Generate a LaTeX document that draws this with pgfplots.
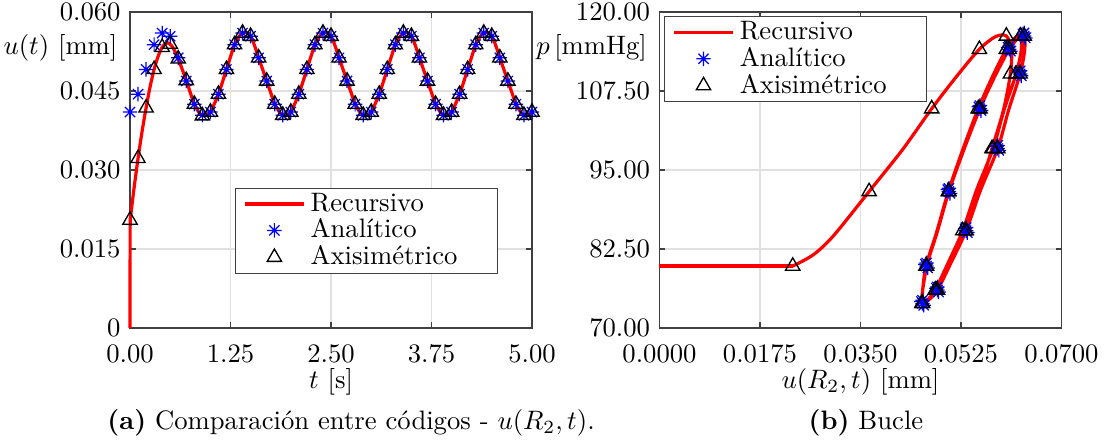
\documentclass[border=0pt]{standalone}
\usepackage{pgfplots}
\pgfplotsset{compat=1.18}
\pgfdeclareplotmark{ast8}{%
  \pgfpathmoveto{\pgfqpoint{-\pgfplotmarksize}{0pt}}\pgfpathlineto{\pgfqpoint{\pgfplotmarksize}{0pt}}%
  \pgfpathmoveto{\pgfqpoint{0pt}{-\pgfplotmarksize}}\pgfpathlineto{\pgfqpoint{0pt}{\pgfplotmarksize}}%
  \pgfpathmoveto{\pgfqpoint{-0.7071\pgfplotmarksize}{-0.7071\pgfplotmarksize}}\pgfpathlineto{\pgfqpoint{0.7071\pgfplotmarksize}{0.7071\pgfplotmarksize}}%
  \pgfpathmoveto{\pgfqpoint{-0.7071\pgfplotmarksize}{0.7071\pgfplotmarksize}}\pgfpathlineto{\pgfqpoint{0.7071\pgfplotmarksize}{-0.7071\pgfplotmarksize}}%
  \pgfusepathqstroke}
\pgfplotsset{myax/.style={
  width=150.75pt, height=118.5pt, scale only axis,
  grid=major, grid style={line width=0.4pt, draw=black!12},
  axis line style={draw=black!75, line width=0.5pt},
  tick style={draw=black!75, line width=0.5pt},
  tick align=inside, major tick length=2.2pt,
  scaled x ticks=false, scaled y ticks=false,
  every axis y label/.style={at={(axis description cs:0,0.886)}, anchor=east, xshift=-1.2pt},
  every axis x label/.style={at={(axis description cs:0.5,0)}, anchor=north, yshift=-11.7pt},
  xticklabel style={yshift=-2.6pt},
  legend cell align=left,
  legend image code/.code={\draw[mark repeat=2,mark phase=2,##1] plot coordinates {(0pt,0pt) (11pt,0pt) (22pt,0pt)};},
  legend style={draw=black!75, line width=0.5pt, inner xsep=3pt, inner ysep=1pt,
     nodes={inner xsep=2pt, inner ysep=0.7pt}},
  clip=false,
},
recline/.style={red, line width=1.2pt, smooth, no markers},
anaplot/.style={only marks, blue, mark=ast8, mark size=2.7pt, mark options={line width=0.45pt}},
axiplot/.style={only marks, black, mark=triangle, mark size=3.1pt, mark options={line width=0.5pt}},
}
\begin{document}
\begin{tikzpicture}
\path[use as bounding box] (-48.75pt,-42.375pt) rectangle (371.25pt,123pt);
% ---------------- (a)
\begin{axis}[myax, at={(0pt,0pt)}, anchor=south west,
  xmin=0, xmax=5, ymin=0, ymax=0.06,
  xtick={0,1.25,2.5,3.75,5}, xticklabels={0.00,1.25,2.50,3.75,5.00},
  ytick={0,0.015,0.03,0.045,0.06}, yticklabels={0,0.015,0.030,0.045,0.060},
  xlabel={$t$ [s]}, ylabel={$u(t)$ [mm]},
  legend style={at={(0.9154,0.1709)}, anchor=south east},
]
\addplot[red, line width=1.2pt, no markers, forget plot] coordinates {(0,0) (0.002,0.0205)};
\addplot[recline] coordinates {
(0.002,0.0205) (0.05,0.0265) (0.1,0.0322) (0.15,0.0373) (0.2,0.0418) (0.25,0.0458) (0.3,0.0491) (0.35,0.0516) (0.4,0.0533) (0.45,0.0541) (0.5,0.0539) (0.55,0.0528) (0.6,0.0511) (0.65,0.0491) (0.7,0.0470) (0.75,0.0447) (0.8,0.0425) (0.85,0.0411) (0.9,0.0403) (0.95,0.0404)
(1.00,0.0410)(1.05,0.0426)(1.10,0.0444)(1.15,0.0467)(1.20,0.0491)(1.25,0.0515)(1.30,0.0538)(1.35,0.0552)(1.40,0.0560)(1.45,0.0561)(1.50,0.0554)(1.55,0.0536)(1.60,0.0513)(1.65,0.0491)(1.70,0.0469)(1.75,0.0447)(1.80,0.0425)(1.85,0.0412)(1.90,0.0404)(1.95,0.0404)
(2.00,0.0410)(2.05,0.0426)(2.10,0.0444)(2.15,0.0467)(2.20,0.0491)(2.25,0.0515)(2.30,0.0538)(2.35,0.0552)(2.40,0.0560)(2.45,0.0561)(2.50,0.0554)(2.55,0.0536)(2.60,0.0513)(2.65,0.0491)(2.70,0.0469)(2.75,0.0447)(2.80,0.0425)(2.85,0.0412)(2.90,0.0404)(2.95,0.0404)
(3.00,0.0410)(3.05,0.0426)(3.10,0.0444)(3.15,0.0467)(3.20,0.0491)(3.25,0.0515)(3.30,0.0538)(3.35,0.0552)(3.40,0.0560)(3.45,0.0561)(3.50,0.0554)(3.55,0.0536)(3.60,0.0513)(3.65,0.0491)(3.70,0.0469)(3.75,0.0447)(3.80,0.0425)(3.85,0.0412)(3.90,0.0404)(3.95,0.0404)
(4.00,0.0410)(4.05,0.0426)(4.10,0.0444)(4.15,0.0467)(4.20,0.0491)(4.25,0.0515)(4.30,0.0538)(4.35,0.0552)(4.40,0.0560)(4.45,0.0561)(4.50,0.0554)(4.55,0.0536)(4.60,0.0513)(4.65,0.0491)(4.70,0.0469)(4.75,0.0447)(4.80,0.0425)(4.85,0.0412)(4.90,0.0404)(4.95,0.0404)
(5.00,0.0410)};
\addlegendentry{\makebox[65pt][l]{Recursivo}}
\addplot[anaplot] coordinates {
(0.0,0.0410)(0.1,0.0444)(0.2,0.0491)(0.3,0.0538)(0.4,0.0560)(0.5,0.0554)(0.6,0.0513)(0.7,0.0469)(0.8,0.0425)(0.9,0.0404)
(1.0,0.0410)(1.1,0.0444)(1.2,0.0491)(1.3,0.0538)(1.4,0.0560)(1.5,0.0554)(1.6,0.0513)(1.7,0.0469)(1.8,0.0425)(1.9,0.0404)
(2.0,0.0410)(2.1,0.0444)(2.2,0.0491)(2.3,0.0538)(2.4,0.0560)(2.5,0.0554)(2.6,0.0513)(2.7,0.0469)(2.8,0.0425)(2.9,0.0404)
(3.0,0.0410)(3.1,0.0444)(3.2,0.0491)(3.3,0.0538)(3.4,0.0560)(3.5,0.0554)(3.6,0.0513)(3.7,0.0469)(3.8,0.0425)(3.9,0.0404)
(4.0,0.0410)(4.1,0.0444)(4.2,0.0491)(4.3,0.0538)(4.4,0.0560)(4.5,0.0554)(4.6,0.0513)(4.7,0.0469)(4.8,0.0425)(4.9,0.0404)
(5.0,0.0410)};
\addlegendentry{Analítico}
\addplot[axiplot] coordinates {
(0.0,0.0205)(0.1,0.0322)(0.2,0.0418)(0.3,0.0491)(0.4,0.0533)(0.5,0.0539)(0.6,0.0511)(0.7,0.0470)(0.8,0.0425)(0.9,0.0403)
(1.0,0.0410)(1.1,0.0444)(1.2,0.0491)(1.3,0.0538)(1.4,0.0560)(1.5,0.0554)(1.6,0.0513)(1.7,0.0469)(1.8,0.0425)(1.9,0.0404)
(2.0,0.0410)(2.1,0.0444)(2.2,0.0491)(2.3,0.0538)(2.4,0.0560)(2.5,0.0554)(2.6,0.0513)(2.7,0.0469)(2.8,0.0425)(2.9,0.0404)
(3.0,0.0410)(3.1,0.0444)(3.2,0.0491)(3.3,0.0538)(3.4,0.0560)(3.5,0.0554)(3.6,0.0513)(3.7,0.0469)(3.8,0.0425)(3.9,0.0404)
(4.0,0.0410)(4.1,0.0444)(4.2,0.0491)(4.3,0.0538)(4.4,0.0560)(4.5,0.0554)(4.6,0.0513)(4.7,0.0469)(4.8,0.0425)(4.9,0.0404)
(5.0,0.0410)};
\addlegendentry{Axisimétrico}
\end{axis}
% ---------------- (b)
\begin{axis}[myax, at={(198.56pt,0pt)}, anchor=south west,
  xmin=0, xmax=0.07, ymin=70, ymax=120,
  xtick={0,0.0175,0.035,0.0525,0.07}, xticklabels={0.0000,0.0175,0.0350,0.0525,0.0700},
  ytick={70,82.5,95,107.5,120}, yticklabels={70.00,82.50,95.00,107.50,120.00},
  xlabel={$u(R_2,t)$ [mm]}, ylabel={$p$\,[mmHg]},
  legend style={at={(0.011,0.987)}, anchor=north west},
]
\addplot[red, line width=1.2pt, no markers, forget plot] coordinates {(0,79.8) (0.0232,79.8)};
\addplot[recline] coordinates {
(0.0232,79.8) (0.0268,81.6) (0.0303,84.6) (0.0365,91.6) (0.0423,98.2) (0.0474,104.7) (0.0519,110.0) (0.0557,114.1) (0.0585,116.1) (0.0604,116.2) (0.0613,114.0) (0.0611,110.2) (0.0599,104.5) (0.0579,98.4) (0.0557,91.8) (0.0533,85.4) (0.0507,80.2) (0.0481,76.0) (0.0466,74.3) (0.0457,73.9) (0.0458,75.8)
(0.0464,79.8)(0.0482,85.0)(0.0503,91.6)(0.0528,98.2)(0.0555,104.7)(0.0581,110.0)(0.0604,114.1)(0.0621,116.1)(0.0629,116.2)(0.0630,114.0)(0.0621,110.2)(0.0600,104.5)(0.0581,98.4)(0.0552,91.8)(0.0528,85.4)(0.0502,80.2)(0.0480,76.0)(0.0465,74.3)(0.0457,73.9)(0.0458,75.8)
(0.0465,79.8)(0.0483,85.0)(0.0504,91.6)(0.0530,98.2)(0.0558,104.7)(0.0585,110.0)(0.0609,114.1)(0.0627,116.1)(0.0635,116.2)(0.0636,114.0)(0.0628,110.2)(0.0608,104.5)(0.0589,98.4)(0.0559,91.8)(0.0534,85.4)(0.0507,80.2)(0.0484,76.0)(0.0467,74.3)(0.0458,73.9)(0.0458,75.8)(0.0465,79.8)};
\addlegendentry{\makebox[65pt][l]{Recursivo}}
\addplot[anaplot] coordinates {
(0.0465,79.8)(0.0504,91.6)(0.0558,104.7)(0.0609,114.1)(0.0635,116.2)(0.0628,110.2)(0.0589,98.4)(0.0534,85.4)(0.0484,76.0)(0.0458,73.9)
(0.0463,80.1)(0.0502,91.9)(0.0556,105.0)(0.0607,114.4)(0.0633,116.5)(0.0626,110.5)(0.0587,98.7)(0.0532,85.7)(0.0482,76.3)(0.0456,74.2)
(0.0467,79.5)(0.0506,91.3)(0.0560,104.4)(0.0611,113.8)(0.0637,115.9)(0.0630,109.9)(0.0591,98.1)(0.0536,85.1)(0.0486,75.7)(0.0460,73.6)
(0.0465,80.3)(0.0504,92.1)(0.0558,105.2)(0.0609,114.6)(0.0635,116.7)(0.0628,110.7)(0.0589,98.9)(0.0534,85.9)(0.0484,76.5)(0.0458,74.4)};
\addlegendentry{Analítico}
\addplot[axiplot] coordinates {
(0.0232,79.8)(0.0365,91.6)(0.0474,104.7)(0.0557,114.1)(0.0604,116.2)(0.0611,110.2)(0.0579,98.4)(0.0533,85.4)(0.0481,76.0)(0.0457,73.9)
(0.0464,79.8)(0.0503,91.6)(0.0555,104.7)(0.0604,114.1)(0.0629,116.2)(0.0621,110.2)(0.0581,98.4)(0.0528,85.4)(0.0480,76.0)(0.0457,73.9)
(0.0465,79.8)(0.0504,91.6)(0.0558,104.7)(0.0609,114.1)(0.0635,116.2)(0.0628,110.2)(0.0589,98.4)(0.0534,85.4)(0.0484,76.0)(0.0458,73.9)};
\addlegendentry{Axisimétrico}
\end{axis}
\node at (82.9pt,-35.6pt) {\textbf{(a)} Comparación entre códigos - $u(R_2,t)$.};
\node at (276pt,-35.6pt) {\textbf{(b)} Bucle};
\end{tikzpicture}
\end{document}
